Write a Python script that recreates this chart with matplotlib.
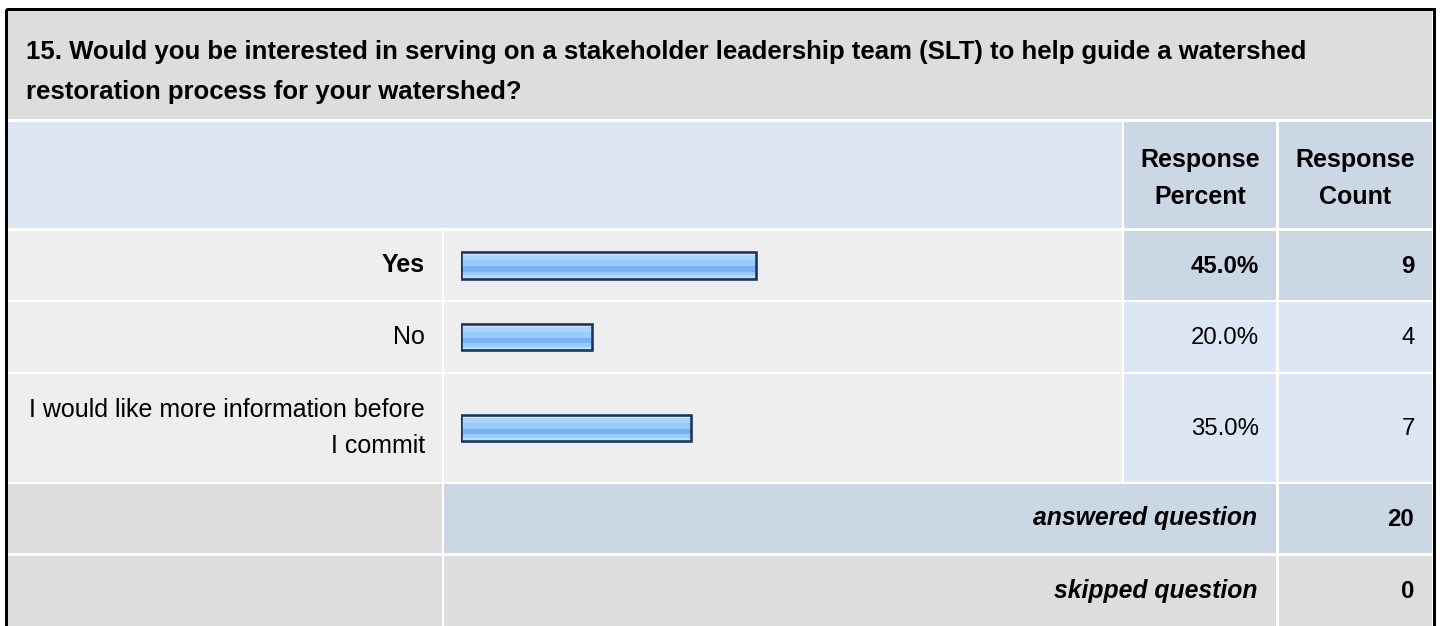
import matplotlib
matplotlib.use("Agg")
import matplotlib.pyplot as plt
from matplotlib.patches import Rectangle
import numpy as np

plt.rcParams['font.family'] = ['Liberation Sans', 'DejaVu Sans']

# ---------------- data ----------------
title_lines = ["15. Would you be interested in serving on a stakeholder leadership team (SLT) to help guide a watershed",
               "restoration process for your watershed?"]
header_percent = ["Response", "Percent"]
header_count = ["Response", "Count"]
categories = ["Yes", "No", "I would like more information before\nI commit"]
percents = [45.0, 20.0, 35.0]
counts = [9, 4, 7]
answered_label = "answered question"
answered_count = 20
skipped_label = "skipped question"
skipped_count = 0

# ---------------- layout (pixels) ----------------
W, H = 1440, 626
FS_NUM = 17.3
FS_TXT = 18.0
FS_TITLE = 18.5
FS_ITAL = 17.8
GRAY = "#dddddd"
LIGHT = "#eeeeee"
LBLUE = "#dce6f4"
DBLUE = "#cbd7e5"

fig = plt.figure(figsize=(W / 100, H / 100), dpi=100)
fig.patch.set_facecolor("white")
ax = fig.add_axes([0, 0, 1, 1])
ax.set_xlim(0, W)
ax.set_ylim(H, 0)
ax.axis("off")

def cell(x0, x1, y0, y1, color):
    ax.add_patch(Rectangle((x0, y0), x1 - x0, y1 - y0, facecolor=color, edgecolor="none", lw=0))

# columns
cL0, cL1 = 8, 442
cB0, cB1 = 444, 1122
cP0, cP1 = 1124, 1276
cC0, cC1 = 1279, 1432

# title band
cell(8, 1432, 11, 119, GRAY)
ax.text(26, 52, title_lines[0], fontsize=FS_TITLE, fontweight="bold", ha="left", va="center", color="black")
ax.text(26, 92, title_lines[1], fontsize=FS_TITLE, fontweight="bold", ha="left", va="center", color="black")

# header
hy0, hy1 = 122, 228
cell(cL0, cB1, hy0, hy1, LBLUE)
cell(cP0, cP1, hy0, hy1, DBLUE)
cell(cC0, cC1, hy0, hy1, DBLUE)
for i, (a, b) in enumerate(zip(header_percent, header_count)):
    yy = 160 + i * 37
    ax.text((cP0 + cP1) / 2, yy, a, fontsize=FS_TXT, fontweight="bold", ha="center", va="center")
    ax.text((cC0 + cC1) / 2, yy, b, fontsize=FS_TXT, fontweight="bold", ha="center", va="center")

# answer rows
row_bounds = [(231, 300), (302, 372), (374, 482)]
imax = int(np.argmax(percents))
row_centers = []
for i, (cat, p, c) in enumerate(zip(categories, percents, counts)):
    y0, y1 = row_bounds[i]
    yc = (y0 + y1) / 2
    row_centers.append(yc)
    is_max = (i == imax)
    cell(cL0, cL1, y0, y1, LIGHT)
    cell(cB0, cB1, y0, y1, LIGHT)
    cell(cP0, cP1, y0, y1, DBLUE if is_max else LBLUE)
    cell(cC0, cC1, y0, y1, DBLUE if is_max else LBLUE)
    fw = "bold" if is_max else "normal"
    lines = cat.split("\n")
    pitch = 36
    start = yc - pitch * (len(lines) - 1) / 2
    for k, ln in enumerate(lines):
        ax.text(425, start + k * pitch, ln, fontsize=FS_TXT, fontweight=fw, ha="right", va="center")
    ax.text(1259, yc + 1, f"{p:.1f}%", fontsize=FS_NUM, fontweight=fw, ha="right", va="center")
    ax.text(1415, yc + 1, f"{c}", fontsize=FS_NUM, fontweight=fw, ha="right", va="center")

# answered / skipped rows
ay0, ay1 = 484, 553
cell(cL0, cL1, ay0, ay1, GRAY)
cell(cB0, cP1, ay0, ay1, DBLUE)
cell(cC0, cC1, ay0, ay1, DBLUE)
ax.text(1257, (ay0 + ay1) / 2, answered_label, fontsize=FS_ITAL, fontweight="bold", style="italic", ha="right", va="center")
ax.text(1414, (ay0 + ay1) / 2 + 1, f"{answered_count}", fontsize=FS_NUM, fontweight="bold", ha="right", va="center")

sy0, sy1 = 556, 626
cell(cL0, cL1, sy0, sy1, GRAY)
cell(cB0, cP1, sy0, sy1, GRAY)
cell(cC0, cC1, sy0, sy1, GRAY)
ax.text(1257, (sy0 + sy1) / 2, skipped_label, fontsize=FS_ITAL, fontweight="bold", style="italic", ha="right", va="center")
ax.text(1414, (sy0 + sy1) / 2 + 1, f"{skipped_count}", fontsize=FS_NUM, fontweight="bold", ha="right", va="center")

# outer border
ax.add_patch(Rectangle((5.5, 8.5), 1428.5, 700, fill=False, edgecolor="black", lw=3 * 0.72))

# ---------------- bars (own axes, x scale = percent) ----------------
bx0, bw = 461, 656
bax = fig.add_axes([bx0 / W, 0, bw / W, 1])
bax.set_xlim(0, 100)
bax.set_ylim(H, 0)
bax.axis("off")
bax.patch.set_alpha(0)

BAR_H = 29
stripes = [  # (top frac, bottom frac, color)
    (0.00, 0.14, "#d2e9ff"),
    (0.14, 0.32, "#a9d5ff"),
    (0.32, 0.53, "#99cbff"),
    (0.53, 0.72, "#79b2f2"),
    (0.72, 0.83, "#99cbff"),
    (0.83, 1.00, "#b8ddff"),
]
for yc, p in zip(row_centers, percents):
    top = yc - BAR_H / 2
    for f0, f1, col in stripes:
        h = (f1 - f0) * BAR_H
        bax.barh(top + (f0 + f1) / 2 * BAR_H, p, height=h, left=0, color=col, lw=0)
    bax.barh(yc, p, height=BAR_H - 2.5, left=0, fill=False, edgecolor="#1c355a", lw=2.6 * 0.72)

fig.savefig("out.png", dpi=100, facecolor="white")
